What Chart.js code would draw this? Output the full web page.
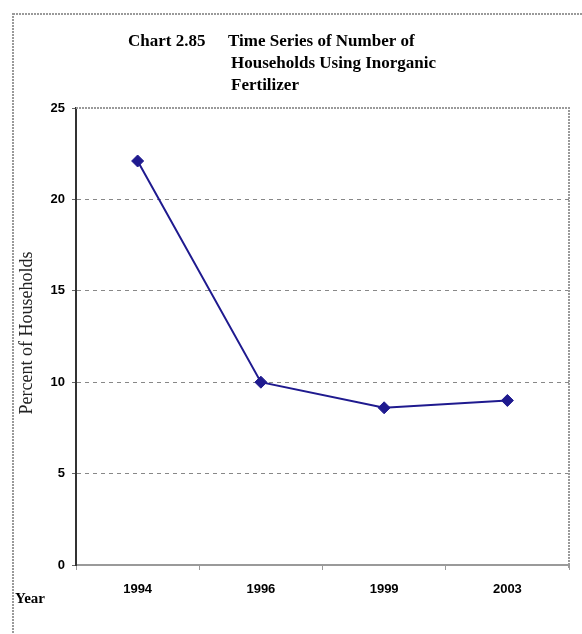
<!DOCTYPE html>
<html>
<head>
<meta charset="utf-8">
<script src="https://cdn.jsdelivr.net/npm/chart.js@4"></script>
<style>
  html, body { margin: 0; padding: 0; background: #fff; }
  canvas { display: block; }
</style>
</head>
<body>
<canvas id="chart" width="582" height="634"></canvas>
<script>
/* Chart 2.85 — households using inorganic fertilizer */

const years    = ['1994', '1996', '1999', '2003'];
const percents = [22.1, 10.0, 8.6, 9.0];
const yTicks   = [0, 5, 10, 15, 20, 25];

const titleLines = [
  { text: 'Chart 2.85', x: 128, y: 42 },
  { text: 'Time Series of Number of', x: 228, y: 42 },
  { text: 'Households Using Inorganic', x: 231, y: 64 },
  { text: 'Fertilizer', x: 231, y: 86 },
];

const SERIF = '"Liberation Serif", "Times New Roman", serif';
const SANS  = '"Liberation Sans", Arial, sans-serif';

// frame, title, plot edges, axis title, "Year"
const decorations = {
  id: 'decorations',
  beforeDraw(chart) {
    const c = chart.ctx;
    c.save();
    c.fillStyle = '#fff';
    c.fillRect(0, 0, chart.width, chart.height);
    c.strokeStyle = '#9a9a9a';
    c.lineWidth = 2;
    c.setLineDash([2, 1]);
    c.strokeRect(13, 14, 620, 660);
    c.restore();
  },
  afterDraw(chart) {
    const c = chart.ctx;
    const a = chart.chartArea;
    c.save();
    // top + right edge of plot (dotted)
    c.strokeStyle = '#9a9a9a';
    c.lineWidth = 2;
    c.setLineDash([2, 1]);
    c.beginPath();
    c.moveTo(a.left, a.top);
    c.lineTo(a.right, a.top);
    c.lineTo(a.right, a.bottom + 4);
    c.stroke();
    c.setLineDash([]);

    c.fillStyle = '#000';
    c.font = 'bold 17px ' + SERIF;
    c.textBaseline = 'middle';
    titleLines.forEach(l => c.fillText(l.text, l.x, l.y));

    c.font = 'bold 15px ' + SERIF;
    c.fillText('Year', 15, 599);

    c.font = '18px ' + SERIF;
    c.translate(27, 333);
    c.rotate(-Math.PI / 2);
    c.textAlign = 'center';
    c.fillStyle = '#222';
    c.fillText('Percent of Households', 0, 0);
    c.restore();
  }
};

new Chart(document.getElementById('chart'), {
  type: 'line',
  data: {
    labels: years,
    datasets: [{
      data: percents,
      borderColor: '#1f1a8f',
      backgroundColor: '#1f1a8f',
      borderWidth: 2,
      tension: 0,
      pointStyle: 'rectRot',
      pointRadius: 6,
      pointBorderWidth: 1,
    }],
  },
  options: {
    responsive: false,
    animation: false,
    layout: { padding: { left: 0, right: 13, top: 108, bottom: 29 } },
    plugins: {
      legend: { display: false },
      tooltip: { enabled: false },
    },
    scales: {
      x: {
        offset: true,
        afterFit: s => { s.height = 40; },
        border: { display: true, color: '#9a9a9a', width: 2 },
        grid: {
          offset: true,
          drawOnChartArea: false,
          drawTicks: true,
          tickLength: 5,
          color: '#9a9a9a',
          lineWidth: 1,
        },
        ticks: {
          color: '#000',
          padding: 12,
          maxRotation: 0,
          font: { family: SANS, size: 13, weight: 'bold' },
        },
      },
      y: {
        min: 0,
        max: 25,
        afterFit: s => { s.width = 76; },
        afterBuildTicks: s => { s.ticks = yTicks.map(v => ({ value: v })); },
        border: { display: true, color: '#333', width: 2, dash: [4, 4] },
        grid: {
          color: ctx => (ctx.tick && (ctx.tick.value === 0 || ctx.tick.value === 25)) ? 'rgba(0,0,0,0)' : '#888',
          lineWidth: 1,
          drawTicks: true,
          tickLength: 4,
          tickColor: '#666',
        },
        ticks: {
          color: '#000',
          padding: 7,
          font: { family: SANS, size: 13, weight: 'bold' },
        },
      },
    },
  },
  plugins: [decorations],
});
</script>
</body>
</html>
